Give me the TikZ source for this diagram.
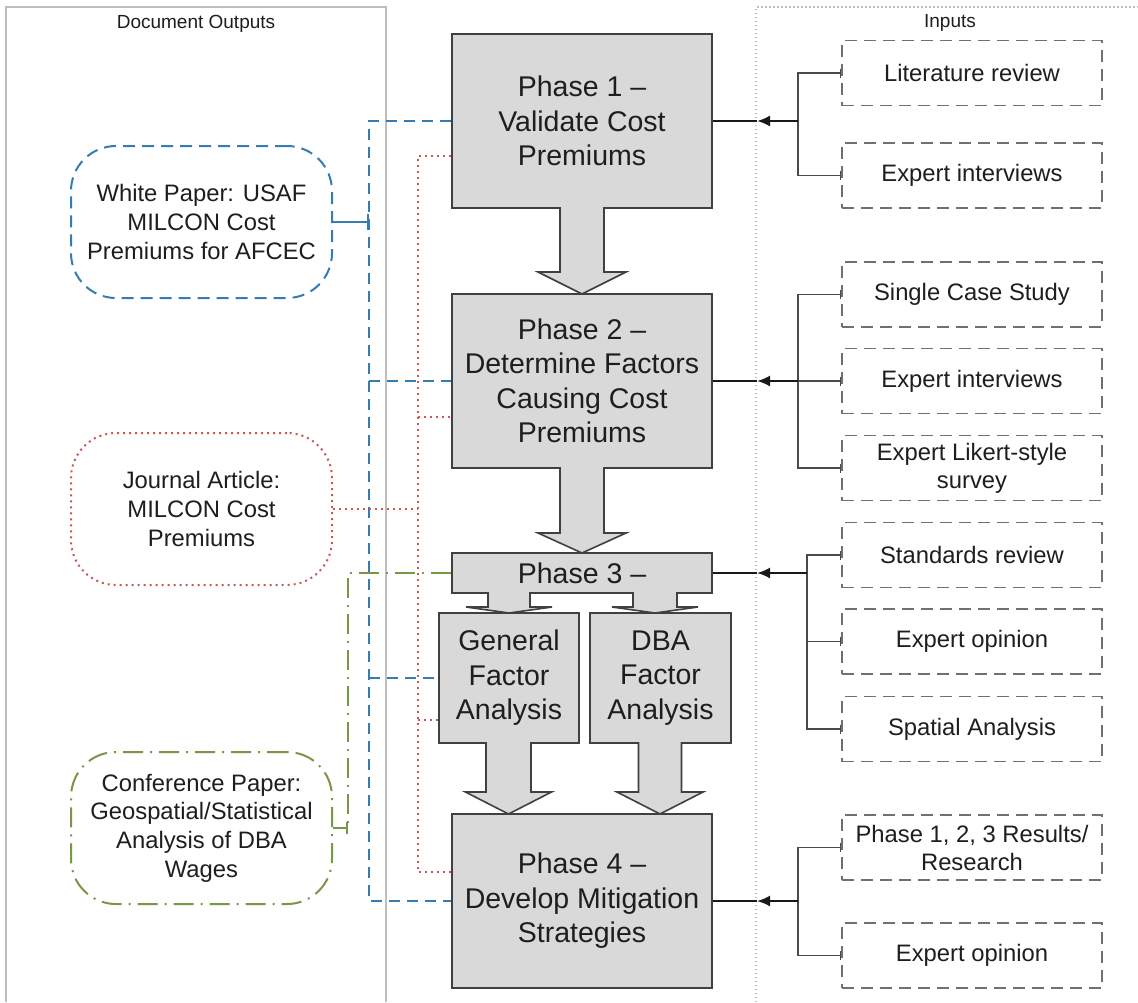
\documentclass[tikz,border=0pt]{standalone}
\usepackage{fontspec}
\setmainfont{Liberation Sans}
\usetikzlibrary{arrows.meta,calc}
\definecolor{phasefill}{HTML}{D9D9D9}
\definecolor{phaseline}{HTML}{404040}
\definecolor{inline}{HTML}{707070}
\definecolor{connline}{HTML}{4A4A4A}
\definecolor{bluec}{RGB}{52,125,180}
\definecolor{redc}{RGB}{205,85,85}
\definecolor{greenc}{RGB}{122,150,70}
\definecolor{framec}{HTML}{BFBFBF}
\definecolor{txt}{HTML}{1E1E1E}
\newcommand\blockarr[6]{%
  \filldraw[blockarrow] (#1-#4,#2-1) -- (#1-#4,#3-#6) -- (#1-#5,#3-#6) -- (#1,#3) -- (#1+#5,#3-#6) -- (#1+#4,#3-#6) -- (#1+#4,#2-1);}
\begin{document}
\begin{tikzpicture}[x=1pt,y=-1pt,
  phase/.style={draw=phaseline, fill=phasefill, line width=1.6pt, minimum width=260pt, align=center, font=\fontsize{28.5}{34.5}\selectfont, text=txt, inner sep=0pt},
  inbox/.style={draw=inline, dash pattern=on 12pt off 7pt, line width=1.8pt, minimum width=260pt, minimum height=65pt, align=center, font=\fontsize{23.8}{28}\selectfont, text=txt, inner sep=0pt},
  outbox/.style={line width=2pt, minimum width=261pt, minimum height=152pt, rounded corners=45pt, align=center, font=\fontsize{23.8}{28.6}\selectfont, text=txt, inner sep=0pt},
  blockarrow/.style={draw=phaseline, fill=phasefill, line width=1.6pt, line join=miter},
  mainconn/.style={draw=black!90, line width=2pt},
  inconn/.style={draw=connline, line width=1.6pt},
  bluedash/.style={draw=bluec, line width=2.2pt, dash pattern=on 11pt off 7pt},
  bluesolid/.style={draw=bluec, line width=2pt},
  reddot/.style={draw=redc, line width=2.2pt, dash pattern=on 2pt off 4pt},
  greendd/.style={draw=greenc, line width=2.2pt, dash pattern=on 20pt off 7pt on 2pt off 7pt},
  greensolid/.style={draw=greenc, line width=2pt},
  titletext/.style={font=\fontsize{19}{22}\selectfont, text=txt, inner sep=0pt},
  bartip/.style={-{Bar[width=9pt]}},
  bartips/.style={{Bar[width=9pt]}-{Bar[width=9pt]}},
]
\useasboundingbox (0,0) rectangle (1138,1002);
\fill[white] (0,0) rectangle (1138,1002);

% frames
\draw[framec, line width=1.8pt] (6,1002) -- (6,7) -- (386,7) -- (386,1002);
\draw[framec, line width=1.2pt, dash pattern=on 1.5pt off 2.5pt] (756,1002) -- (756,7) -- (1138,7);
\node[titletext] (tdo) at (196,24) {Document Outputs};
\node[titletext] (tin) at (950,23) {Inputs};

% phases
\node[phase, minimum height=174pt] (p1) at (582,121) {Phase 1 –\\Validate Cost\\Premiums};
\node[phase, minimum height=174pt] (p2) at (582,381) {Phase 2 –\\Determine Factors\\Causing Cost\\Premiums};
\node[phase, minimum height=40pt] (p3) at (582,573) {Phase 3 –};
\node[phase, minimum width=140pt, minimum height=130pt] (gen) at (509,678) {General\\Factor\\Analysis};
\node[phase, minimum width=141pt, minimum height=130pt] (dba) at (660.5,678) {DBA\\Factor\\Analysis};
\node[phase, minimum height=174pt] (p4) at (582,901) {Phase 4 –\\Develop Mitigation\\Strategies};

% block arrows
\blockarr{582}{208}{294}{22}{44}{22}
\blockarr{582}{468}{553}{22}{44}{20}
\blockarr{509}{593}{613}{21}{43}{6}
\blockarr{655}{593}{613}{22}{43}{6}
\blockarr{508.5}{743}{814}{22.5}{43}{22}
\blockarr{660}{743}{814}{21.5}{43}{22}

% inputs
\node[inbox] (i1) at (972,73) {Literature review};
\node[inbox] (i2) at (972,175.5) {Expert interviews};
\node[inbox] (i3) at (972,294.5) {Single Case Study};
\node[inbox] (i4) at (972,381) {Expert interviews};
\node[inbox] (i5) at (972,468) {Expert Likert-style\\survey};
\node[inbox] (i6) at (972,555) {Standards review};
\node[inbox] (i7) at (972,641.5) {Expert opinion};
\node[inbox] (i8) at (972,729) {Spatial Analysis};
\node[inbox] (i9) at (972,847.5) {Phase 1, 2, 3 Results/\\Research};
\node[inbox] (i10) at (972,955.5) {Expert opinion};

% junctions
\coordinate (j1) at (798,121);
\coordinate (t1) at (757,121);
\coordinate (j2) at (798,381);
\coordinate (t2) at (757,381);
\coordinate (j3) at (807,573);
\coordinate (t3) at (757,573);
\coordinate (j4) at (798,901);
\coordinate (t4) at (757,901);

\draw[inconn, bartips] (i1.west) -| (j1) |- (i2.west);
\draw[inconn, bartips] (i3.west) -| (j2) |- (i5.west);
\draw[inconn, bartip] (j2) -- (i4.west);
\draw[inconn, bartips] (i6.west) -| (j3) |- (i8.west);
\draw[inconn, bartip] (j3 |- i7.west) -- (i7.west);
\draw[inconn, bartips] (i9.west) -| (j4) |- (i10.west);

\foreach \k/\p in {1/p1,2/p2,3/p3,4/p4}{
  \draw[mainconn, -{Latex[length=13pt,width=11pt]}] (j\k) -- (t\k);
  \draw[mainconn] (t\k) -- (\p.east);
}

% outputs
\node[outbox, draw=bluec, dash pattern=on 12pt off 7pt] (wp) at (201.5,222) {White Paper: USAF\\MILCON Cost\\Premiums for AFCEC};
\node[outbox, draw=redc, dash pattern=on 2pt off 4pt, line width=2pt] (jo) at (201.5,509) {Journal Article:\\MILCON Cost\\Premiums};
\node[outbox, draw=greenc, dash pattern=on 20pt off 7pt on 2pt off 7pt] (cp) at (201.5,828) {Conference Paper:\\Geospatial/Statistical\\Analysis of DBA\\Wages};

% blue connectors
\coordinate (bx) at (369,0);
\draw[bluedash] (p1.west) -| (bx |- p4.west) -- (p4.west);
\draw[bluedash] (bx |- p2.west) -- (p2.west);
\draw[bluedash] (bx |- gen.west) -- (gen.west);
\draw[bluesolid, -{Bar[width=16pt]}] (wp.east) -- (bx |- wp.east);

% red connectors
\coordinate (rx) at (418,0);
\draw[reddot] (p1.west |- 0,156) -| (rx |- 0,872) -- (p4.west |- 0,872);
\draw[reddot] (rx |- 0,417) -- (p2.west |- 0,417);
\draw[reddot] (rx |- 0,720) -- (gen.west |- 0,720);
\draw[reddot] (jo.east) -- (rx |- jo.east);

% green connectors
\coordinate (gx) at (348,0);
\draw[greendd] (p3.west) -| (gx |- cp.east);
\draw[greensolid, -{Bar[width=12pt]}] (cp.east) -- (gx |- cp.east);
\end{tikzpicture}
\end{document}
